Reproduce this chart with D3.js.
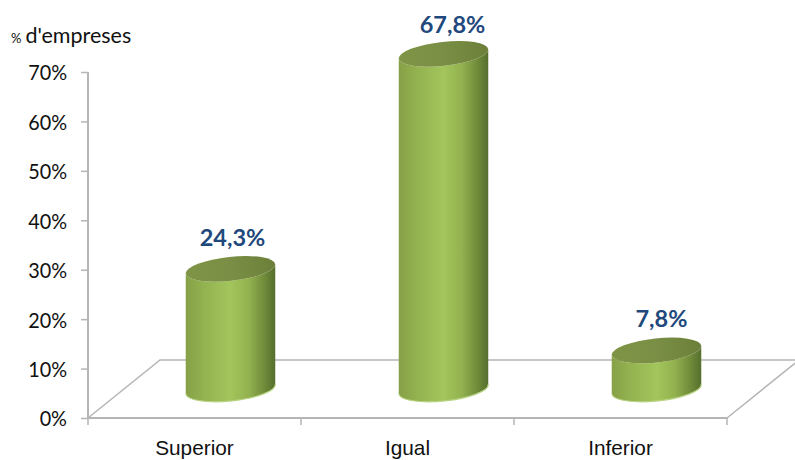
<!DOCTYPE html>
<html>
<head>
<meta charset="utf-8">
<script src="https://cdn.jsdelivr.net/npm/d3@7"></script>
<style>
  html, body { margin: 0; padding: 0; background: #fff; overflow: hidden; }
  svg { display: block; font-family: Lato, "Open Sans", sans-serif; }
</style>
</head>
<body>
<script>
const categories = ['Superior', 'Igual', 'Inferior']
const values = [24.3, 67.8, 7.8]
const valueLabels = ['24,3%', '67,8%', '7,8%']
const yTicks = [0, 10, 20, 30, 40, 50, 60, 70]

const width = 795
const height = 460
const depthX = 72
const depthY = 58
const rx = 45
const ry = 12
const tilt = -6

const svg = d3.select('body').append('svg')
  .attr('width', width)
  .attr('height', height)

const x = d3.scaleBand().domain(categories).range([88, 727])
const y = d3.scaleLinear().domain([0, 70]).range([418, 72])

// Lato runs wider than the font of the original, so squeeze the text a bit
function squeeze(sel, k) {
  sel.each(function () {
    d3.select(this)
      .attr('textLength', this.getComputedTextLength() * k)
      .attr('lengthAdjust', 'spacingAndGlyphs')
  })
}

const defs = svg.append('defs')

const side = defs.append('linearGradient').attr('id', 'side')
side.selectAll('stop')
  .data([[0, '#86a047'], [0.2, '#93b250'], [0.5, '#a3c55c'], [0.7, '#93b24f'], [0.88, '#6f8b3a'], [1, '#566e2d']])
  .enter().append('stop')
  .attr('offset', d => d[0])
  .attr('stop-color', d => d[1])

const cap = defs.append('linearGradient').attr('id', 'cap')
cap.selectAll('stop')
  .data([[0, '#7f9446'], [0.5, '#7a8f45'], [1, '#6c7f3a']])
  .enter().append('stop')
  .attr('offset', d => d[0])
  .attr('stop-color', d => d[1])

// floor of the 3d plot
const floor = svg.append('g').attr('fill', 'none').attr('stroke', '#b5b5b5')
const x0 = x.range()[0]
const x1 = x.range()[1]
const y0 = y(0)

floor.append('path')
  .attr('stroke-width', 1.5)
  .attr('d', `M${x0},${y0}L${x0 + depthX},${y0 - depthY}L${x1 + depthX},${y0 - depthY}L${x1},${y0}`)

// axes
const yAxis = d3.axisLeft(y)
  .tickValues(yTicks)
  .tickSize(7)
  .tickPadding(14)
  .tickFormat(d => d + '%')

const xAxis = d3.axisBottom(x)
  .tickValues([])
  .tickSize(0)

const gy = svg.append('g').attr('transform', `translate(${x0},0)`).call(yAxis)
gy.selectAll('.domain').attr('d', `M0,${y(70)}V${y(0)}`).attr('stroke', '#b5b5b5').attr('stroke-width', 2)
gy.selectAll('line').attr('stroke', '#b5b5b5').attr('stroke-width', 1.5)
gy.selectAll('text')
  .attr('font-size', 22)
  .attr('font-family', 'Lato')
  .attr('fill', '#111')
  .attr('dy', '0.36em')
  .call(squeeze, 0.9)

const gx = svg.append('g').attr('transform', `translate(0,${y0})`).call(xAxis)
gx.selectAll('.domain').attr('d', `M${x0},0H${x1}`).attr('stroke', '#b5b5b5').attr('stroke-width', 2)

gx.selectAll('.sep')
  .data(d3.range(categories.length + 1))
  .enter().append('line')
  .attr('x1', i => x0 + i * x.step())
  .attr('x2', i => x0 + i * x.step())
  .attr('y1', 0)
  .attr('y2', 7)
  .attr('stroke', '#b5b5b5')
  .attr('stroke-width', 1.5)

gx.selectAll('.cat')
  .data(categories)
  .enter().append('text')
  .attr('x', d => x(d) + x.bandwidth() / 2)
  .attr('y', 37)
  .attr('text-anchor', 'middle')
  .attr('font-size', 21)
  .attr('fill', '#111')
  .text(d => d)
  .call(squeeze, 0.99)

// cylinders
const dx = Math.cos(tilt * Math.PI / 180) * rx
const dy = Math.sin(tilt * Math.PI / 180) * rx
const barX = d => x(d) + x.bandwidth() / 2 + depthX / 2
const baseY = y0 - depthY / 2

const bars = svg.selectAll('.bar')
  .data(categories.map((c, i) => ({ c, v: values[i], label: valueLabels[i] })))
  .enter().append('g')
  .attr('class', 'bar')

bars.append('path')
  .attr('fill', 'url(#side)')
  .attr('d', d => {
    const cx = barX(d.c)
    const top = baseY - (y0 - y(d.v))
    return `M${cx - dx},${top - dy}L${cx - dx},${baseY - dy}` +
      `A${rx},${ry} ${tilt} 0 0 ${cx + dx},${baseY + dy}` +
      `L${cx + dx},${top + dy}` +
      `A${rx},${ry} ${tilt} 0 1 ${cx - dx},${top - dy}Z`
  })

// soft light rim along the bottom of each cylinder
bars.append('path')
  .attr('fill', 'none')
  .attr('stroke', '#b9d384')
  .attr('stroke-width', 1.2)
  .attr('d', d => {
    const cx = barX(d.c)
    return `M${cx - dx},${baseY - dy}A${rx},${ry} ${tilt} 0 0 ${cx + dx},${baseY + dy}`
  })

bars.append('ellipse')
  .attr('fill', 'url(#cap)')
  .attr('rx', rx)
  .attr('ry', ry)
  .attr('transform', d => `translate(${barX(d.c)},${baseY - (y0 - y(d.v))}) rotate(${tilt})`)

const labelShift = [2, 9, 5]
bars.append('text')
  .attr('x', (d, i) => barX(d.c) + labelShift[i])
  .attr('y', (d, i) => baseY - (y0 - y(d.v)) - (i === 1 ? 21 : 23))
  .attr('text-anchor', 'middle')
  .attr('font-size', 23.5)
  .attr('font-weight', 700)
  .attr('fill', '#1f497d')
  .text(d => d.label)

// axis title
const title = svg.append('text').attr('x', 11).attr('y', 43).attr('fill', '#111')
title.append('tspan').attr('font-size', 13).text('%')
title.append('tspan').attr('font-size', 21.5).attr('dx', 4).text("d'empreses")
</script>
</body>
</html>
